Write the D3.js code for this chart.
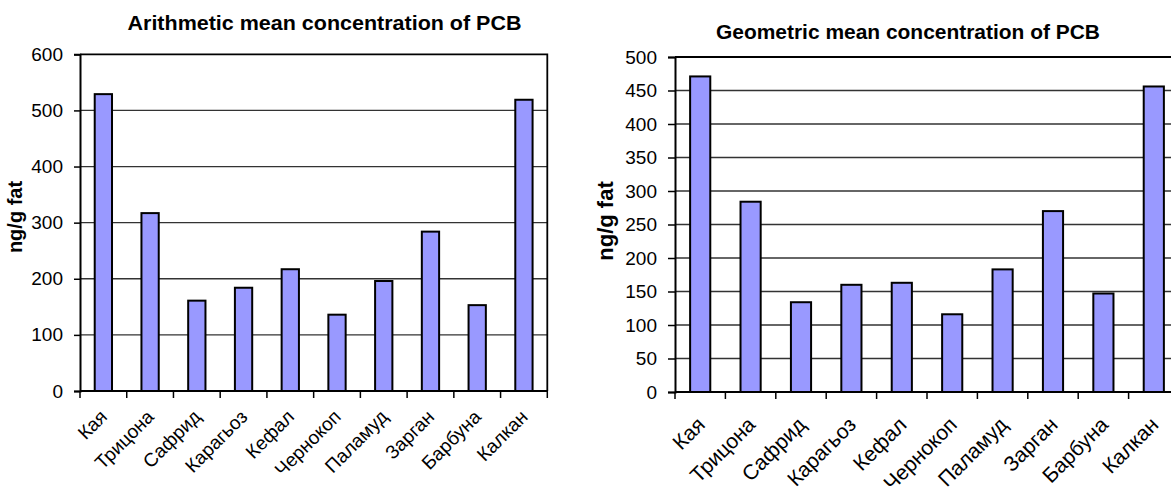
<!DOCTYPE html>
<html>
<head>
<meta charset="utf-8">
<script src="https://cdn.jsdelivr.net/npm/d3@7"></script>
<style>
  body { margin: 0; background: #fff; }
  svg { display: block; font-family: Arial, "Liberation Sans", sans-serif; }
  .grid line { stroke: #333; stroke-width: 1.3; }
  .bar { fill: #9999ff; stroke: #000; stroke-width: 2; }
</style>
</head>
<body>
<div id="chart"></div>
<script>
// Fish species (x axis)
var categories = ["Кая", "Трицона", "Сафрид", "Карагьоз", "Кефал", "Чернокоп", "Паламуд", "Зарган", "Барбуна", "Калкан"];

// PCB concentration, ng/g fat
var arithmeticMean = [529, 317, 161, 184, 217, 136, 196, 284, 153, 519];
var geometricMean = [471, 284, 134, 160, 163, 116, 183, 270, 147, 456];

// Y axis ticks
var arithTicks = [0, 100, 200, 300, 400, 500, 600];
var geoTicks = [0, 50, 100, 150, 200, 250, 300, 350, 400, 450, 500];

var svg = d3.select("#chart")
    .append("svg")
    .attr("width", 1171)
    .attr("height", 488);

// Draw one Excel-style column chart
function drawChart(opt) {
    var x = d3.scaleBand()
        .domain(categories)
        .range([opt.left, opt.right])
        .paddingInner(opt.pad)
        .paddingOuter(opt.pad / 2);
    var band = (opt.right - opt.left) / categories.length;

    var y = d3.scaleLinear()
        .domain([0, opt.ticks[opt.ticks.length - 1]])
        .range([opt.bottom, opt.top]);

    var g = svg.append("g");

    // gridlines
    g.append("g")
        .attr("class", "grid")
        .selectAll("line")
        .data(opt.ticks.slice(1, -1))
        .enter()
        .append("line")
        .attr("x1", opt.left)
        .attr("x2", opt.right)
        .attr("y1", function(d) { return y(d); })
        .attr("y2", function(d) { return y(d); });

    // plot border (top + right)
    g.append("path")
        .attr("d", "M" + opt.left + "," + opt.top + "H" + opt.right + "V" + opt.bottom)
        .attr("fill", "none")
        .attr("stroke", "#000")
        .attr("stroke-width", 1.8);

    // bars
    g.selectAll(".bar")
        .data(opt.values)
        .enter()
        .append("rect")
        .attr("class", "bar")
        .attr("x", function(d, i) { return x(categories[i]); })
        .attr("width", x.bandwidth())
        .attr("y", function(d) { return y(d); })
        .attr("height", function(d) { return opt.bottom - y(d); });

    // y axis
    var yAxis = d3.axisLeft(y)
        .tickValues(opt.ticks)
        .tickSize(opt.tick)
        .tickPadding(opt.yPad);
    var ya = g.append("g")
        .attr("transform", "translate(" + opt.left + ",0)")
        .call(yAxis);
    ya.select(".domain").attr("stroke", "#000").attr("stroke-width", 2);
    ya.selectAll(".tick line").attr("stroke", "#000").attr("stroke-width", 1.5);
    ya.selectAll(".tick text")
        .attr("fill", "#000")
        .style("font-size", opt.yFont + "px");

    // x axis ticks at band boundaries
    var bounds = d3.range(categories.length + 1).map(function(i) { return opt.left + i * band; });
    g.append("line")
        .attr("x1", opt.left)
        .attr("x2", opt.right)
        .attr("y1", opt.bottom)
        .attr("y2", opt.bottom)
        .attr("stroke", "#000")
        .attr("stroke-width", 2.2);
    g.selectAll(".xtick")
        .data(bounds)
        .enter()
        .append("line")
        .attr("x1", function(d) { return d; })
        .attr("x2", function(d) { return d; })
        .attr("y1", opt.bottom)
        .attr("y2", opt.bottom + 7)
        .attr("stroke", "#000")
        .attr("stroke-width", 1.5);

    // x labels, rotated
    g.selectAll(".xlabel")
        .data(categories)
        .enter()
        .append("text")
        .attr("text-anchor", "end")
        .attr("transform", function(d) {
            var cx = x(d) + x.bandwidth() / 2 + opt.xShift;
            return "translate(" + cx + "," + (opt.bottom + opt.xDrop) + ") rotate(-45)";
        })
        .style("font-size", opt.xFont + "px")
        .text(function(d) { return d; });

    // title
    g.append("text")
        .attr("x", opt.titleX)
        .attr("y", opt.titleY)
        .attr("text-anchor", "middle")
        .attr("textLength", opt.titleW)
        .attr("lengthAdjust", "spacingAndGlyphs")
        .style("font-size", "21px")
        .style("font-weight", "bold")
        .text(opt.title);

    // y axis title
    g.append("text")
        .attr("transform", "translate(" + opt.yTitleX + "," + opt.yTitleY + ") rotate(-90)")
        .attr("text-anchor", "middle")
        .style("font-size", opt.yTitleFont + "px")
        .style("font-weight", "bold")
        .text("ng/g fat");
}

drawChart({
    values: arithmeticMean, ticks: arithTicks,
    left: 80, right: 547.3, top: 54.3, bottom: 391,
    pad: 0.63, tick: 6, yPad: 11, yFont: 19,
    xFont: 19, xShift: 5, xDrop: 27,
    title: "Arithmetic mean concentration of PCB", titleX: 324.5, titleY: 30, titleW: 394,
    yTitleX: 22, yTitleY: 217, yTitleFont: 20
});

drawChart({
    values: geometricMean, ticks: geoTicks,
    left: 675, right: 1179, top: 57, bottom: 392,
    pad: 0.6, tick: 7, yPad: 11, yFont: 19,
    xFont: 21, xShift: 6, xDrop: 34,
    title: "Geometric mean concentration of PCB", titleX: 908, titleY: 39, titleW: 384,
    yTitleX: 613, yTitleY: 221, yTitleFont: 22
});
</script>
</body>
</html>
